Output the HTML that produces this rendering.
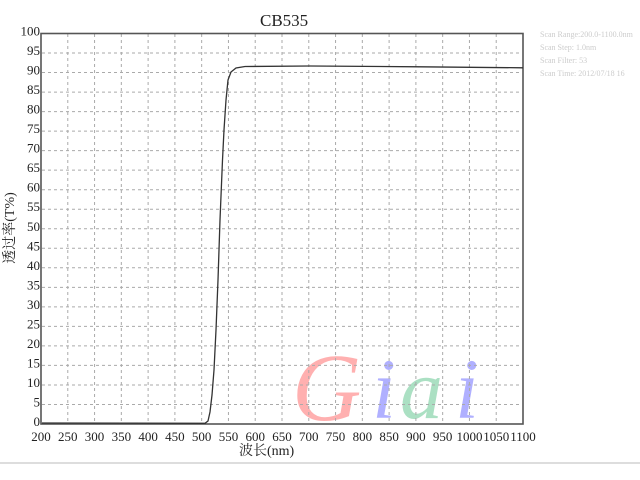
<!DOCTYPE html>
<html><head><meta charset="utf-8"><style>
html,body{margin:0;padding:0;background:#fff;}
svg{display:block;font-family:"Liberation Serif","Noto Serif CJK SC",serif;}
</style></head><body>
<svg width="640" height="480" viewBox="0 0 640 480" xmlns="http://www.w3.org/2000/svg">
<rect width="640" height="480" fill="#fff"/>
<g opacity="0.4" font-style="italic" font-family="Liberation Serif,serif">
<text x="292" y="420" font-size="96" fill="#ff3b3b">G</text>
<text x="372" y="418" font-size="86" fill="#3b3bff">i</text>
<text x="400" y="418" font-size="86" fill="#2fb36a">a</text>
<text x="455" y="418" font-size="86" fill="#3b3bff">i</text>
</g>
<g stroke="#aaa" stroke-width="1" stroke-dasharray="3,3" fill="none" id="grid"></g>
<g font-size="13" fill="#222" id="labels"></g>
<rect x="41" y="33.5" width="482" height="390.5" fill="none" stroke="#555" stroke-width="1.6"/>
<path d="M42,423 L205,423.3 L208,421 L210,412 L212,395 L214,370 L216,330 L218,280 L220,220 L222.5,160 L224,130 L226,100 L228,80 L231,72 L236,68 L245,66.5 L310,66 L420,66.8 L523,67.8" fill="none" stroke="#333" stroke-width="1.3"/>
<text x="260" y="26" font-size="17" fill="#222">CB535</text>
<text x="239" y="455" font-size="14" fill="#222" font-family="Liberation Serif,Noto Serif CJK SC,serif">波长(nm)</text>
<text transform="translate(14,228) rotate(-90)" text-anchor="middle" font-size="14" fill="#222">透过率(T%)</text>
<g font-size="8" fill="#ccc">
<text x="540" y="37">Scan Range:200.0-1100.0nm</text>
<text x="540" y="50">Scan Step:  1.0nm</text>
<text x="540" y="63">Scan Filter: 53</text>
<text x="540" y="76">Scan Time:  2012/07/18  16</text>
</g>
<line x1="0" y1="463" x2="640" y2="463" stroke="#ddd" stroke-width="2"/>
<script>
var g=document.getElementById('grid'),l=document.getElementById('labels'),ns='http://www.w3.org/2000/svg';
for(var k=1;k<18;k++){var x=41+k*482/18;var e=document.createElementNS(ns,'line');e.setAttribute('x1',x);e.setAttribute('x2',x);e.setAttribute('y1',34);e.setAttribute('y2',423);g.appendChild(e);}
for(var k=0;k<=18;k++){var x=41+k*482/18;var t=document.createElementNS(ns,'text');t.setAttribute('x',x);t.setAttribute('y',441);t.setAttribute('text-anchor','middle');t.textContent=200+k*50;l.appendChild(t);}
for(var k=1;k<20;k++){var y=424-k*390.5/20;var e=document.createElementNS(ns,'line');e.setAttribute('x1',42);e.setAttribute('x2',522);e.setAttribute('y1',y);e.setAttribute('y2',y);g.appendChild(e);}
for(var k=0;k<=20;k++){var y=424-k*390.5/20;var t=document.createElementNS(ns,'text');t.setAttribute('x',40);t.setAttribute('y',y+2);t.setAttribute('text-anchor','end');t.textContent=k*5;l.appendChild(t);}
</script>
</svg>
</body></html>
